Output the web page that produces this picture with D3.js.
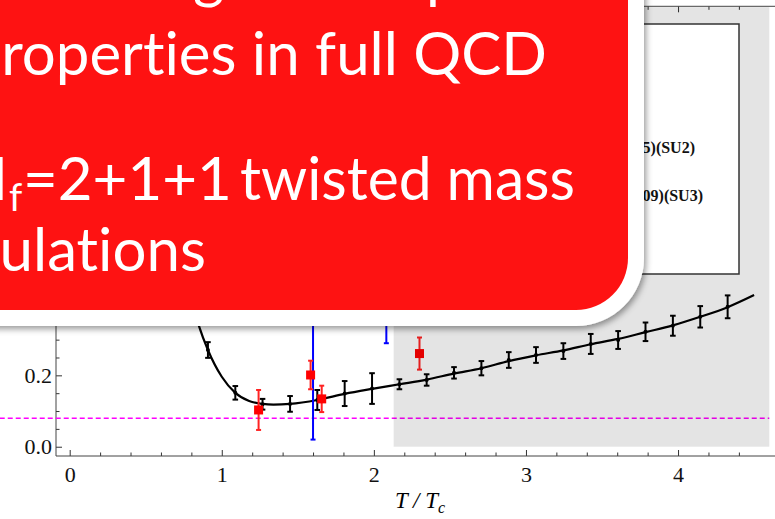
<!DOCTYPE html>
<html lang="en">
<head>
  <meta charset="UTF-8">
  <title>eta/s</title>
  <style>
    body { margin: 0; background: #fff; }
    svg { display: block; }
    .slide text { font-variant-ligatures: none; }
  </style>
</head>
<body>
  <div class="warp"></div>
  <script src="https://cdnjs.cloudflare.com/ajax/libs/d3/7.8.5/d3.min.js"></script>
  <script>
    // black points (data on the curve)
    var blackT   = [0.909, 1.089, 1.268, 1.449, 1.628, 1.808, 1.988, 2.168, 2.347, 2.527,
                    2.707, 2.887, 3.066, 3.246, 3.426, 3.606, 3.786, 3.966, 4.146, 4.326];
    var blackY   = [0.271, 0.151, 0.119, 0.120, 0.131, 0.149, 0.163, 0.175, 0.187, 0.207,
                    0.220, 0.243, 0.257, 0.268, 0.288, 0.299, 0.322, 0.339, 0.364, 0.392];
    var blackErr = [0.022, 0.019, 0.015, 0.022, 0.028, 0.035, 0.043, 0.014, 0.016, 0.016,
                    0.020, 0.022, 0.022, 0.022, 0.028, 0.025, 0.026, 0.028, 0.030, 0.032];
    // fitted curve
    var curveT = [0.78, 0.852, 0.909, 1.0, 1.089, 1.18, 1.268, 1.34, 1.449, 1.628, 1.808, 1.988,
                  2.168, 2.347, 2.527, 2.707, 2.887, 3.066, 3.246, 3.426, 3.606, 3.786, 3.966, 4.146, 4.326, 4.50];
    var curveY = [0.45, 0.336, 0.271, 0.196, 0.151, 0.128, 0.120, 0.118, 0.120, 0.131, 0.148, 0.162,
                  0.175, 0.188, 0.205, 0.220, 0.240, 0.256, 0.270, 0.287, 0.302, 0.321, 0.340, 0.364, 0.391, 0.425];
    // red squares
    var redT   = [1.242, 1.584, 1.657, 2.300];
    var redY   = [0.103, 0.201, 0.134, 0.261];
    var redErr = [0.056, 0.040, 0.037, 0.045];
    // blue error bars
    var blueT   = [1.600, 2.082];
    var blueY   = [0.45, 0.55];
    var blueErr = [0.43, 0.26];
    // KSS bound line and shaded range
    var kssValue = 0.0796;
    var kssRange = [-0.46, 4.6];
    var shadeT = [2.13, 4.6];
    var shadeY = [0, 1.234];
    // ticks
    var xMajor = [0, 1, 2, 3, 4];
    var yMajor = [0, 0.2, 0.4, 0.6, 0.8, 1.0, 1.2];
    var legendLabels = ["Nakamura, Sakai (2005)(SU2)", "Meyer (2007, 2009)(SU3)"];
    var slideLines = ["Extracting the transport", "properties in full QCD", "twisted mass", "simulations"];

    var W = 775, H = 519;
    var svg = d3.select('.warp').append('svg').attr('width', W).attr('height', H);
    var x = d3.scaleLinear().domain([-0.09, 4.6]).range([56, 769.3]);
    var y = d3.scaleLinear().domain([-0.026, 1.234]).range([456, 6.3]);

    var xMinor = d3.range(0, 23).map(function(i){ return +(i * 0.2).toFixed(1); })
      .filter(function(v){ return xMajor.indexOf(v) < 0; });
    var yMinor = d3.range(0, 25).map(function(i){ return +(i * 0.05).toFixed(2); })
      .filter(function(v){ return yMajor.indexOf(v) < 0; });

    // axes (frame style, ticks inward)
    function styleAxis(g) {
      g.select('.domain').remove();
      g.selectAll('line').attr('stroke', '#333');
      g.selectAll('text').attr('font-family', 'Liberation Serif, Times New Roman, serif')
        .attr('font-size', 22).attr('fill', '#111');
    }
    svg.append('g').attr('transform', 'translate(0,456)')
      .call(d3.axisBottom(x).tickValues(xMinor).tickSizeInner(-3.5).tickSizeOuter(0).tickFormat(''))
      .call(styleAxis);
    svg.append('g').attr('transform', 'translate(0,456)')
      .call(d3.axisBottom(x).tickValues(xMajor).tickSizeInner(-6).tickSizeOuter(0).tickPadding(10)
        .tickFormat(d3.format('d')))
      .call(styleAxis);
    svg.append('g').attr('transform', 'translate(0,6.3)')
      .call(d3.axisTop(x).tickValues(xMinor).tickSizeInner(-3.5).tickSizeOuter(0).tickFormat(''))
      .call(styleAxis);
    svg.append('g').attr('transform', 'translate(0,6.3)')
      .call(d3.axisTop(x).tickValues(xMajor).tickSizeInner(-6).tickSizeOuter(0).tickFormat(''))
      .call(styleAxis);
    svg.append('g').attr('transform', 'translate(56,0)')
      .call(d3.axisLeft(y).tickValues(yMinor).tickSizeInner(-3.5).tickSizeOuter(0).tickFormat(''))
      .call(styleAxis);
    svg.append('g').attr('transform', 'translate(56,0)')
      .call(d3.axisLeft(y).tickValues(yMajor).tickSizeInner(-6).tickSizeOuter(0).tickPadding(4)
        .tickFormat(d3.format('.1f')))
      .call(styleAxis);

    // frame lines
    var frame = svg.append('g').attr('stroke', '#444').attr('stroke-width', 1);
    frame.append('line').attr('x1', 56).attr('x2', W).attr('y1', 456).attr('y2', 456);
    frame.append('line').attr('x1', 56).attr('x2', W).attr('y1', 6.3).attr('y2', 6.3);
    frame.append('line').attr('x1', 56).attr('x2', 56).attr('y1', 6.3).attr('y2', 456);

    // x label
    var xl = svg.append('text').attr('x', 420).attr('y', 508).attr('text-anchor', 'middle')
      .attr('font-family', 'Liberation Serif, serif').attr('font-size', 23).attr('font-style', 'italic');
    xl.append('tspan').text('T / T');
    xl.append('tspan').attr('dy', 5).attr('font-size', 16).text('c');

    // KSS line
    svg.append('line')
      .attr('x1', x(kssRange[0])).attr('x2', x(kssRange[1]))
      .attr('y1', y(kssValue)).attr('y2', y(kssValue))
      .attr('stroke', '#ff00ff').attr('stroke-width', 1.6).attr('stroke-dasharray', '5,3');

    // curve
    var line = d3.line().x(function(d){ return x(d[0]); }).y(function(d){ return y(d[1]); })
      .curve(d3.curveMonotoneX);
    svg.append('path').datum(d3.zip(curveT, curveY)).attr('d', line)
      .attr('fill', 'none').attr('stroke', '#000').attr('stroke-width', 2.2);

    function errBars(T, Y, E, color, cap, sw) {
      var g = svg.append('g').attr('stroke', color).attr('stroke-width', sw);
      T.forEach(function(t, i){
        var cx = x(t), y1 = y(Y[i] + E[i]), y2 = y(Y[i] - E[i]);
        g.append('line').attr('x1', cx).attr('x2', cx).attr('y1', y1).attr('y2', y2);
        g.append('line').attr('x1', cx - cap).attr('x2', cx + cap).attr('y1', y1).attr('y2', y1);
        g.append('line').attr('x1', cx - cap).attr('x2', cx + cap).attr('y1', y2).attr('y2', y2);
      });
    }

    errBars(blackT, blackY, blackErr, '#000', 2.8, 2);
    svg.append('g').selectAll('circle').data(blackT).enter().append('circle')
      .attr('cx', function(d){ return x(d); })
      .attr('cy', function(d, i){ return y(blackY[i]); })
      .attr('r', 2).attr('fill', '#000');

    errBars(blueT, blueY, blueErr, '#0000ff', 2.5, 2);

    errBars(redT, redY, redErr, '#f22', 2.5, 2);
    svg.append('g').selectAll('rect').data(redT).enter().append('rect')
      .attr('x', function(d){ return x(d) - 4.5; })
      .attr('y', function(d, i){ return y(redY[i]) - 4.5; })
      .attr('width', 9).attr('height', 9).attr('fill', '#f00');

    // shaded region (semi transparent on top of data)
    svg.append('rect')
      .attr('x', x(shadeT[0])).attr('width', x(shadeT[1]) - x(shadeT[0]))
      .attr('y', y(shadeY[1]) + 0.8).attr('height', y(shadeY[0]) - y(shadeY[1]) - 0.8)
      .attr('fill', '#000').attr('fill-opacity', 0.106);

    // legend
    var leg = svg.append('g');
    leg.append('rect').attr('x', 480).attr('y', 24).attr('width', 259).attr('height', 250)
      .attr('fill', '#fff').attr('stroke', '#333').attr('stroke-width', 1.5);
    var legEnd = [695, 703], legBase = [153, 201];
    legendLabels.forEach(function(t, i){
      leg.append('text').attr('x', legEnd[i]).attr('y', legBase[i]).attr('text-anchor', 'end')
        .attr('font-family', 'Liberation Serif, serif').attr('font-weight', 'bold')
        .attr('font-size', 16).attr('fill', '#111').text(t);
    });

    // slide overlay box
    var defs = svg.append('defs');
    var f = defs.append('filter').attr('id', 'shadow').attr('x', '-10%').attr('y', '-10%')
      .attr('width', '130%').attr('height', '130%');
    f.append('feDropShadow').attr('dx', 2).attr('dy', 3).attr('stdDeviation', 3)
      .attr('flood-color', '#000').attr('flood-opacity', 0.4);

    var box = svg.append('g').attr('class', 'slide');
    box.append('rect').attr('x', -200).attr('y', -200).attr('width', 844).attr('height', 526)
      .attr('rx', 68).attr('fill', '#fff').attr('filter', 'url(#shadow)');
    box.append('rect').attr('x', -200).attr('y', -200).attr('width', 828).attr('height', 510)
      .attr('rx', 52).attr('fill', '#fe1212');

    var font = 'Lato, "Open Sans", sans-serif';
    function slideText(str, xPos, base, anchor) {
      return box.append('text').attr('x', xPos).attr('y', base).attr('text-anchor', anchor || 'end')
        .attr('font-family', font).attr('font-size', 60).attr('fill', '#fff').text(str);
    }
    // line 1: only the descenders show; put the "g" at x = 193 and the "p" at x = 426
    var l1 = slideText(slideLines[0], 0, -3, 'start');
    var s0 = slideLines[0];
    var gi = s0.indexOf('g'), pi = s0.indexOf('p');
    var gx = l1.node().getStartPositionOfChar(gi).x;
    var px = l1.node().getStartPositionOfChar(pi).x;
    var nSpace = s0.slice(gi, pi).split(' ').length - 1;
    l1.attr('word-spacing', (233 - (px - gx)) / nSpace);
    gx = l1.node().getStartPositionOfChar(gi).x;
    l1.attr('x', 193 - gx);

    slideText(slideLines[1], 547, 75);

    // line 3: N_f=2+1+1 twisted mass
    slideText('N', 8, 200);
    box.append('text').attr('x', 9).attr('y', 211).attr('font-family', font)
      .attr('font-size', 38).attr('fill', '#fff').text('f');
    slideText('=2+1+1', 23, 200, 'start');
    slideText(slideLines[2], 240, 200, 'start')
      .attr('textLength', 335).attr('lengthAdjust', 'spacingAndGlyphs');

    slideText(slideLines[3], 206, 271);
  </script>
</body>
</html>
